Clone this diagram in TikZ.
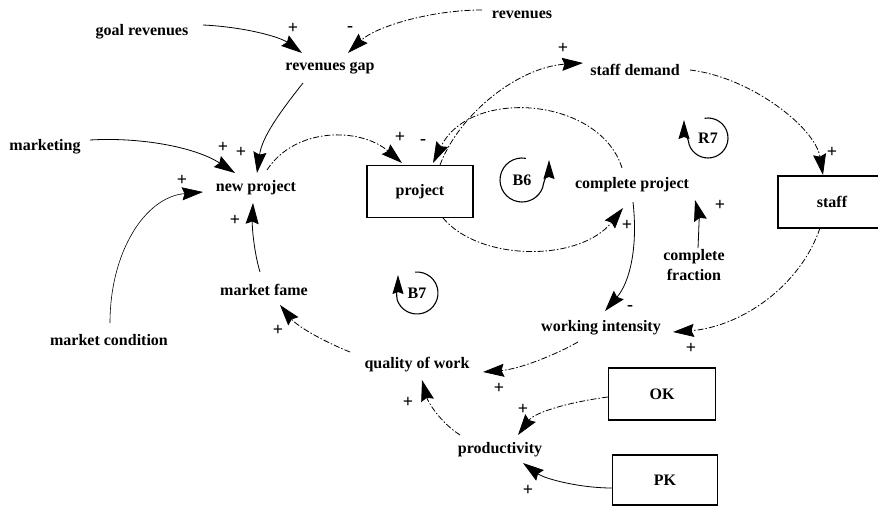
\documentclass[tikz,border=0pt]{standalone}
\usepackage{fontspec}
\setmainfont{Liberation Serif}
\usetikzlibrary{arrows.meta,calc}
\begin{document}
\begin{tikzpicture}[x=1pt,y=1pt,
  lbl/.style={font=\fontsize{16}{20}\selectfont\bfseries, inner sep=1pt},
  sgn/.style={font=\fontsize{18}{18}\selectfont\bfseries, inner sep=0pt},
  boxn/.style={draw, line width=1.3pt, minimum width=106pt, minimum height=52pt, inner sep=0pt, font=\fontsize{16}{20}\selectfont\bfseries},
  lnk/.style={line width=0.8pt, -{Stealth[length=21pt,width=13pt,inset=2.5pt]}},
  dlnk/.style={lnk, dash pattern=on 6pt off 2pt on 1.5pt off 2pt},
  loopc/.style={line width=1.1pt, -{Stealth[length=19pt,width=11pt,inset=2pt]}}]
\useasboundingbox (0,0) rectangle (878,507);
\fill[white] (0,0) rectangle (878,507);
% variables
\node[lbl] (goalrev) at (142,475) {goal revenues};
\node[lbl] (revenues) at (522,492) {revenues};
\node[lbl] (revgap) at (330,439) {revenues gap};
\node[lbl] (staffdem) at (635,437) {staff demand};
\node[lbl] (marketing) at (45,360) {marketing};
\node[lbl] (newproj) at (256,319) {new project};
\node[boxn] (project) at (420,315.5) {project};
\node[lbl] (compproj) at (632,322) {complete project};
\node[boxn, minimum width=108pt] (staff) at (832,305) {staff};
\node[lbl] (marketfame) at (264,217) {market fame};
\node[lbl] (marketcond) at (109,167) {market condition};
\node[lbl, align=center] (compfrac) at (694,242) {complete\\fraction};
\node[lbl] (workint) at (601,179) {working intensity};
\node[lbl] (qow) at (417,142) {quality of work};
\node[boxn, minimum width=107pt] (ok) at (662,113) {OK};
\node[lbl] (prod) at (500,57) {productivity};
\node[boxn, minimum width=105pt, minimum height=50pt] (pk) at (665,27) {PK};
% loop labels
\node[lbl] (b6) at (522,327) {B6};
\node[lbl] (r7) at (708,369) {R7};
\node[lbl] (b7) at (417,214) {B7};
\draw[loopc] ($(b6)+(80:22)$) arc[start angle=80,end angle=340,radius=22] to[out=80,in=-90] ($(b6)+(27,20)$);
\draw[loopc] ($(r7)+(100:20)$) arc[start angle=100,end angle=-160,radius=20] to[out=100,in=-90] ($(r7)+(-24,18)$);
\draw[loopc] ($(b7)+(95:21)$) arc[start angle=95,end angle=-160,radius=21] to[out=100,in=-90] ($(b7)+(-19,18)$);
% links
\draw[lnk] ($(goalrev)+(61,7)$) .. controls (245,480) and (280,470) .. ($(revgap)+(-28,15)$);
\draw[dlnk] ($(revenues)+(-40,5)$) .. controls (430,497) and (375,480) .. ($(revgap)+(18,15)$);
\draw[lnk] ($(revgap)+(-27,-15)$) .. controls (280,395) and (262,370) .. ($(newproj)+(1,15)$);
\draw[lnk] ($(marketing)+(45,7)$) .. controls (140,370) and (195,360) .. ($(newproj)+(-21,15)$);
\draw[lnk, line width=0.6pt] ($(marketcond)+(1,17)$) .. controls (110,255) and (145,310) .. ($(newproj)+(-53,-4)$);
\draw[lnk] ($(marketfame)+(-4,18)$) .. controls (254,255) and (252,280) .. ($(newproj)+(-3,-15)$);
\draw[dlnk] ($(newproj)+(11,18)$) .. controls (295,380) and (360,380) .. ($(project)+(-18,28.5)$);
\draw[dlnk] ($(compproj)+(-10,17)$) .. controls (600,410) and (470,420) .. ($(project)+(13,28.5)$);
\draw[dlnk] ($(project)+(20,26.5)$) .. controls (460,395) and (520,440) .. ($(staffdem)+(-52,7)$);
\draw[dlnk] ($(project)+(23,-26.5)$) .. controls (480,245) and (580,245) .. ($(compproj)+(-9,-23)$);
\draw[lnk] ($(compfrac)+(4,17)$) .. controls (699,280) and (699,292) .. ($(compproj)+(63,-15)$);
\draw[dlnk] ($(staffdem)+(55,0)$) .. controls (750,430) and (815,380) .. ($(staff)+(-9,27)$);
\draw[dlnk] ($(staff)+(-12,-26)$) .. controls (800,220) and (740,180) .. ($(workint)+(72,-4)$);
\draw[lnk] ($(compproj)+(1,-17)$) .. controls (638,260) and (630,225) .. ($(workint)+(4,17)$);
\draw[dlnk] ($(workint)+(-23,-14)$) .. controls (555,152) and (520,138) .. ($(qow)+(66,-7)$);
\draw[dlnk] ($(qow)+(-67,13)$) .. controls (325,165) and (298,180) .. ($(marketfame)+(16,-15)$);
\draw[dlnk] ($(prod)+(-40,15)$) .. controls (440,85) and (428,105) .. ($(qow)+(5,-15)$);
\draw[dlnk] ($(ok.west)+(0,-3)$) .. controls (570,105) and (535,95) .. ($(prod)+(18,15)$);
\draw[lnk] ($(pk.west)+(0,-8)$) .. controls (580,19) and (545,28) .. ($(prod)+(23,-13)$);
% polarity signs
\node[sgn] (s1) at (293,479) {+};
\node[sgn] (s2) at (350,478) {-};
\node[sgn] (s3) at (223,360) {+};
\node[sgn] (s4) at (241,355) {+};
\node[sgn] (s5) at (182,327) {+};
\node[sgn] (s6) at (400,370) {+};
\node[sgn] (s7) at (423,365) {-};
\node[sgn] (s8) at (563,459) {+};
\node[sgn] (s9) at (832,355) {+};
\node[sgn] (s10) at (627,282) {+};
\node[sgn] (s11) at (720,302) {+};
\node[sgn] (s12) at (235,287) {+};
\node[sgn] (s13) at (278,177) {+};
\node[sgn] (s14) at (630,199) {-};
\node[sgn] (s15) at (691,159) {+};
\node[sgn] (s16) at (499,119) {+};
\node[sgn] (s17) at (408,105) {+};
\node[sgn] (s18) at (523,98) {+};
\node[sgn] (s19) at (528,17) {+};
\end{tikzpicture}
\end{document}
